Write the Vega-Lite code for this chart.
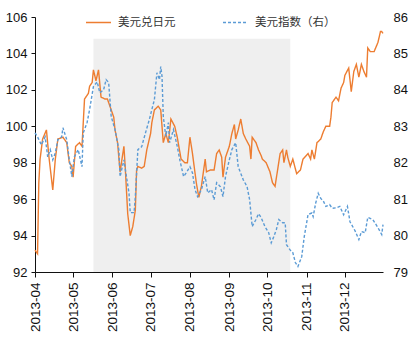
{
  "$schema": "https://vega.github.io/schema/vega-lite/v6.json",
  "width": 348,
  "height": 255,
  "autosize": "none",
  "padding": {"left": 35, "top": 17, "right": 33, "bottom": 84},
  "background": "white",
  "config": {
    "view": {"stroke": null},
    "axis": {"labelFont": "Liberation Sans", "labelFontSize": 13, "labelColor": "#111", "grid": false, "domainColor": "#111", "tickColor": "#111", "title": null}
  },
  "datasets": {
    "shade": [{"start": "2013-05-17", "end": "2013-10-19", "top": 104.8, "bottom": 92}],
    "jpy": [
      {"s":"美元兑日元","d":"2013-04-01","v":93.2},{"s":"美元兑日元","d":"2013-04-03","v":93.0},{"s":"美元兑日元","d":"2013-04-04","v":96.9},{"s":"美元兑日元","d":"2013-04-05","v":98.2},{"s":"美元兑日元","d":"2013-04-07","v":99.3},{"s":"美元兑日元","d":"2013-04-10","v":99.8},{"s":"美元兑日元","d":"2013-04-12","v":98.3},{"s":"美元兑日元","d":"2013-04-15","v":96.5},{"s":"美元兑日元","d":"2013-04-17","v":98.2},{"s":"美元兑日元","d":"2013-04-19","v":99.3},{"s":"美元兑日元","d":"2013-04-23","v":99.4},{"s":"美元兑日元","d":"2013-04-26","v":99.1},{"s":"美元兑日元","d":"2013-04-28","v":98.0},{"s":"美元兑日元","d":"2013-04-30","v":97.8},
      {"s":"美元兑日元","d":"2013-05-01","v":97.2},{"s":"美元兑日元","d":"2013-05-03","v":98.9},{"s":"美元兑日元","d":"2013-05-06","v":99.1},{"s":"美元兑日元","d":"2013-05-08","v":98.9},{"s":"美元兑日元","d":"2013-05-10","v":101.5},{"s":"美元兑日元","d":"2013-05-13","v":101.8},{"s":"美元兑日元","d":"2013-05-14","v":102.2},{"s":"美元兑日元","d":"2013-05-16","v":102.4},{"s":"美元兑日元","d":"2013-05-17","v":103.1},{"s":"美元兑日元","d":"2013-05-19","v":102.5},{"s":"美元兑日元","d":"2013-05-21","v":103.1},{"s":"美元兑日元","d":"2013-05-23","v":101.6},{"s":"美元兑日元","d":"2013-05-26","v":101.5},{"s":"美元兑日元","d":"2013-05-28","v":101.5},
      {"s":"美元兑日元","d":"2013-06-02","v":100.5},{"s":"美元兑日元","d":"2013-06-03","v":99.8},{"s":"美元兑日元","d":"2013-06-05","v":99.1},{"s":"美元兑日元","d":"2013-06-07","v":97.5},{"s":"美元兑日元","d":"2013-06-10","v":98.9},{"s":"美元兑日元","d":"2013-06-11","v":97.8},{"s":"美元兑日元","d":"2013-06-12","v":96.5},{"s":"美元兑日元","d":"2013-06-13","v":95.2},{"s":"美元兑日元","d":"2013-06-15","v":94.0},{"s":"美元兑日元","d":"2013-06-17","v":94.5},{"s":"美元兑日元","d":"2013-06-19","v":95.4},{"s":"美元兑日元","d":"2013-06-20","v":97.6},{"s":"美元兑日元","d":"2013-06-21","v":97.8},{"s":"美元兑日元","d":"2013-06-24","v":97.7},{"s":"美元兑日元","d":"2013-06-26","v":97.8},{"s":"美元兑日元","d":"2013-06-28","v":98.7},
      {"s":"美元兑日元","d":"2013-07-01","v":99.6},{"s":"美元兑日元","d":"2013-07-02","v":100.2},{"s":"美元兑日元","d":"2013-07-04","v":100.9},{"s":"美元兑日元","d":"2013-07-07","v":101.1},{"s":"美元兑日元","d":"2013-07-09","v":100.9},{"s":"美元兑日元","d":"2013-07-11","v":99.1},{"s":"美元兑日元","d":"2013-07-13","v":99.6},{"s":"美元兑日元","d":"2013-07-15","v":99.1},{"s":"美元兑日元","d":"2013-07-17","v":100.4},{"s":"美元兑日元","d":"2013-07-20","v":100.0},{"s":"美元兑日元","d":"2013-07-22","v":99.4},{"s":"美元兑日元","d":"2013-07-25","v":98.2},{"s":"美元兑日元","d":"2013-07-28","v":98.0},{"s":"美元兑日元","d":"2013-07-30","v":98.0},
      {"s":"美元兑日元","d":"2013-08-01","v":99.4},{"s":"美元兑日元","d":"2013-08-03","v":98.5},{"s":"美元兑日元","d":"2013-08-06","v":96.9},{"s":"美元兑日元","d":"2013-08-08","v":96.1},{"s":"美元兑日元","d":"2013-08-10","v":96.7},{"s":"美元兑日元","d":"2013-08-13","v":98.2},{"s":"美元兑日元","d":"2013-08-14","v":97.5},{"s":"美元兑日元","d":"2013-08-17","v":97.6},{"s":"美元兑日元","d":"2013-08-20","v":97.6},{"s":"美元兑日元","d":"2013-08-22","v":98.5},{"s":"美元兑日元","d":"2013-08-24","v":98.7},{"s":"美元兑日元","d":"2013-08-26","v":98.3},{"s":"美元兑日元","d":"2013-08-27","v":97.2},{"s":"美元兑日元","d":"2013-08-29","v":98.3},
      {"s":"美元兑日元","d":"2013-09-01","v":98.9},{"s":"美元兑日元","d":"2013-09-03","v":99.6},{"s":"美元兑日元","d":"2013-09-05","v":100.1},{"s":"美元兑日元","d":"2013-09-06","v":99.3},{"s":"美元兑日元","d":"2013-09-08","v":99.8},{"s":"美元兑日元","d":"2013-09-10","v":100.4},{"s":"美元兑日元","d":"2013-09-12","v":99.6},{"s":"美元兑日元","d":"2013-09-14","v":99.3},{"s":"美元兑日元","d":"2013-09-17","v":98.9},{"s":"美元兑日元","d":"2013-09-18","v":98.2},{"s":"美元兑日元","d":"2013-09-19","v":99.4},{"s":"美元兑日元","d":"2013-09-22","v":99.1},{"s":"美元兑日元","d":"2013-09-24","v":98.7},{"s":"美元兑日元","d":"2013-09-26","v":98.4},{"s":"美元兑日元","d":"2013-09-27","v":98.2},{"s":"美元兑日元","d":"2013-09-30","v":98.0},
      {"s":"美元兑日元","d":"2013-10-03","v":97.5},{"s":"美元兑日元","d":"2013-10-05","v":96.9},{"s":"美元兑日元","d":"2013-10-07","v":96.7},{"s":"美元兑日元","d":"2013-10-09","v":97.6},{"s":"美元兑日元","d":"2013-10-11","v":98.5},{"s":"美元兑日元","d":"2013-10-13","v":98.7},{"s":"美元兑日元","d":"2013-10-14","v":98.0},{"s":"美元兑日元","d":"2013-10-16","v":98.7},{"s":"美元兑日元","d":"2013-10-17","v":98.3},{"s":"美元兑日元","d":"2013-10-19","v":97.8},{"s":"美元兑日元","d":"2013-10-21","v":98.2},{"s":"美元兑日元","d":"2013-10-24","v":97.4},{"s":"美元兑日元","d":"2013-10-27","v":97.6},{"s":"美元兑日元","d":"2013-10-29","v":98.2},
      {"s":"美元兑日元","d":"2013-11-02","v":98.5},{"s":"美元兑日元","d":"2013-11-04","v":98.2},{"s":"美元兑日元","d":"2013-11-05","v":98.7},{"s":"美元兑日元","d":"2013-11-07","v":98.2},{"s":"美元兑日元","d":"2013-11-09","v":99.1},{"s":"美元兑日元","d":"2013-11-12","v":99.3},{"s":"美元兑日元","d":"2013-11-14","v":99.7},{"s":"美元兑日元","d":"2013-11-16","v":100.0},{"s":"美元兑日元","d":"2013-11-19","v":100.0},{"s":"美元兑日元","d":"2013-11-20","v":100.5},{"s":"美元兑日元","d":"2013-11-21","v":101.3},{"s":"美元兑日元","d":"2013-11-24","v":101.6},{"s":"美元兑日元","d":"2013-11-26","v":101.4},{"s":"美元兑日元","d":"2013-11-28","v":102.1},{"s":"美元兑日元","d":"2013-11-30","v":102.4},
      {"s":"美元兑日元","d":"2013-12-01","v":102.8},{"s":"美元兑日元","d":"2013-12-04","v":103.2},{"s":"美元兑日元","d":"2013-12-06","v":101.9},{"s":"美元兑日元","d":"2013-12-08","v":103.0},{"s":"美元兑日元","d":"2013-12-10","v":103.4},{"s":"美元兑日元","d":"2013-12-12","v":102.7},{"s":"美元兑日元","d":"2013-12-14","v":103.4},{"s":"美元兑日元","d":"2013-12-16","v":103.0},{"s":"美元兑日元","d":"2013-12-18","v":102.7},{"s":"美元兑日元","d":"2013-12-19","v":104.3},{"s":"美元兑日元","d":"2013-12-21","v":104.1},{"s":"美元兑日元","d":"2013-12-24","v":104.1},{"s":"美元兑日元","d":"2013-12-27","v":104.6},{"s":"美元兑日元","d":"2013-12-29","v":105.2},{"s":"美元兑日元","d":"2013-12-30","v":105.2},{"s":"美元兑日元","d":"2013-12-31","v":105.1}
    ],
    "dxy": [
      {"s":"美元指数（右）","d":"2013-04-01","v":82.82},{"s":"美元指数（右）","d":"2013-04-03","v":82.71},{"s":"美元指数（右）","d":"2013-04-06","v":82.49},{"s":"美元指数（右）","d":"2013-04-09","v":82.71},{"s":"美元指数（右）","d":"2013-04-11","v":82.16},{"s":"美元指数（右）","d":"2013-04-13","v":82.36},{"s":"美元指数（右）","d":"2013-04-15","v":82.08},{"s":"美元指数（右）","d":"2013-04-17","v":82.27},{"s":"美元指数（右）","d":"2013-04-19","v":82.63},{"s":"美元指数（右）","d":"2013-04-22","v":82.71},{"s":"美元指数（右）","d":"2013-04-23","v":82.96},{"s":"美元指数（右）","d":"2013-04-26","v":82.63},{"s":"美元指数（右）","d":"2013-04-28","v":82.08},{"s":"美元指数（右）","d":"2013-04-30","v":81.62},
      {"s":"美元指数（右）","d":"2013-05-02","v":82.16},{"s":"美元指数（右）","d":"2013-05-05","v":82.36},{"s":"美元指数（右）","d":"2013-05-08","v":81.89},{"s":"美元指数（右）","d":"2013-05-09","v":82.82},{"s":"美元指数（右）","d":"2013-05-12","v":83.10},{"s":"美元指数（右）","d":"2013-05-14","v":83.46},{"s":"美元指数（右）","d":"2013-05-17","v":84.09},{"s":"美元指数（右）","d":"2013-05-20","v":84.22},{"s":"美元指数（右）","d":"2013-05-22","v":83.92},{"s":"美元指数（右）","d":"2013-05-25","v":84.0},{"s":"美元指数（右）","d":"2013-05-27","v":84.28},{"s":"美元指数（右）","d":"2013-05-29","v":84.2},{"s":"美元指数（右）","d":"2013-05-31","v":83.27},
      {"s":"美元指数（右）","d":"2013-06-03","v":82.91},{"s":"美元指数（右）","d":"2013-06-06","v":82.36},{"s":"美元指数（右）","d":"2013-06-07","v":81.62},{"s":"美元指数（右）","d":"2013-06-10","v":82.08},{"s":"美元指数（右）","d":"2013-06-12","v":81.62},{"s":"美元指数（右）","d":"2013-06-14","v":81.17},{"s":"美元指数（右）","d":"2013-06-15","v":80.63},{"s":"美元指数（右）","d":"2013-06-18","v":80.63},{"s":"美元指数（右）","d":"2013-06-19","v":81.07},{"s":"美元指数（右）","d":"2013-06-21","v":82.36},{"s":"美元指数（右）","d":"2013-06-24","v":82.44},{"s":"美元指数（右）","d":"2013-06-27","v":82.82},{"s":"美元指数（右）","d":"2013-06-30","v":83.18},
      {"s":"美元指数（右）","d":"2013-07-02","v":83.46},{"s":"美元指数（右）","d":"2013-07-04","v":83.73},{"s":"美元指数（右）","d":"2013-07-06","v":84.47},{"s":"美元指数（右）","d":"2013-07-08","v":84.28},{"s":"美元指数（右）","d":"2013-07-09","v":84.64},{"s":"美元指数（右）","d":"2013-07-10","v":84.37},{"s":"美元指数（右）","d":"2013-07-11","v":83.27},{"s":"美元指数（右）","d":"2013-07-13","v":82.72},{"s":"美元指数（右）","d":"2013-07-15","v":83.1},{"s":"美元指数（右）","d":"2013-07-16","v":82.55},{"s":"美元指数（右）","d":"2013-07-19","v":82.91},{"s":"美元指数（右）","d":"2013-07-22","v":82.45},{"s":"美元指数（右）","d":"2013-07-24","v":82.08},{"s":"美元指数（右）","d":"2013-07-27","v":81.62},{"s":"美元指数（右）","d":"2013-07-29","v":81.72},
      {"s":"美元指数（右）","d":"2013-08-01","v":81.89},{"s":"美元指数（右）","d":"2013-08-03","v":81.72},{"s":"美元指数（右）","d":"2013-08-05","v":81.26},{"s":"美元指数（右）","d":"2013-08-07","v":81.07},{"s":"美元指数（右）","d":"2013-08-10","v":81.26},{"s":"美元指数（右）","d":"2013-08-13","v":81.62},{"s":"美元指数（右）","d":"2013-08-15","v":81.17},{"s":"美元指数（右）","d":"2013-08-18","v":81.26},{"s":"美元指数（右）","d":"2013-08-20","v":80.98},{"s":"美元指数（右）","d":"2013-08-22","v":81.45},{"s":"美元指数（右）","d":"2013-08-25","v":81.34},{"s":"美元指数（右）","d":"2013-08-27","v":81.07},{"s":"美元指数（右）","d":"2013-08-29","v":81.62},
      {"s":"美元指数（右）","d":"2013-09-01","v":82.08},{"s":"美元指数（右）","d":"2013-09-03","v":82.36},{"s":"美元指数（右）","d":"2013-09-06","v":82.55},{"s":"美元指数（右）","d":"2013-09-08","v":81.89},{"s":"美元指数（右）","d":"2013-09-12","v":81.53},{"s":"美元指数（右）","d":"2013-09-15","v":81.34},{"s":"美元指数（右）","d":"2013-09-17","v":80.98},{"s":"美元指数（右）","d":"2013-09-19","v":80.25},{"s":"美元指数（右）","d":"2013-09-22","v":80.44},{"s":"美元指数（右）","d":"2013-09-24","v":80.6},{"s":"美元指数（右）","d":"2013-09-26","v":80.5},{"s":"美元指数（右）","d":"2013-09-29","v":80.25},
      {"s":"美元指数（右）","d":"2013-10-02","v":80.08},{"s":"美元指数（右）","d":"2013-10-04","v":79.8},{"s":"美元指数（右）","d":"2013-10-06","v":79.97},{"s":"美元指数（右）","d":"2013-10-08","v":80.16},{"s":"美元指数（右）","d":"2013-10-10","v":80.44},{"s":"美元指数（右）","d":"2013-10-13","v":80.35},{"s":"美元指数（右）","d":"2013-10-15","v":80.35},{"s":"美元指数（右）","d":"2013-10-16","v":79.75},{"s":"美元指数（右）","d":"2013-10-19","v":79.6},{"s":"美元指数（右）","d":"2013-10-21","v":79.53},{"s":"美元指数（右）","d":"2013-10-23","v":79.26},{"s":"美元指数（右）","d":"2013-10-25","v":79.15},{"s":"美元指数（右）","d":"2013-10-28","v":79.42},{"s":"美元指数（右）","d":"2013-10-30","v":79.97},
      {"s":"美元指数（右）","d":"2013-11-02","v":80.58},{"s":"美元指数（右）","d":"2013-11-05","v":80.62},{"s":"美元指数（右）","d":"2013-11-06","v":80.52},{"s":"美元指数（右）","d":"2013-11-08","v":80.89},{"s":"美元指数（右）","d":"2013-11-10","v":81.16},{"s":"美元指数（右）","d":"2013-11-12","v":81.02},{"s":"美元指数（右）","d":"2013-11-14","v":80.95},{"s":"美元指数（右）","d":"2013-11-16","v":80.8},{"s":"美元指数（右）","d":"2013-11-19","v":80.85},{"s":"美元指数（右）","d":"2013-11-21","v":80.75},{"s":"美元指数（右）","d":"2013-11-24","v":80.76},{"s":"美元指数（右）","d":"2013-11-27","v":80.8},{"s":"美元指数（右）","d":"2013-11-30","v":80.57},
      {"s":"美元指数（右）","d":"2013-12-03","v":80.8},{"s":"美元指数（右）","d":"2013-12-05","v":80.38},{"s":"美元指数（右）","d":"2013-12-09","v":80.13},{"s":"美元指数（右）","d":"2013-12-12","v":79.89},{"s":"美元指数（右）","d":"2013-12-14","v":80.11},{"s":"美元指数（右）","d":"2013-12-17","v":80.08},{"s":"美元指数（右）","d":"2013-12-19","v":80.5},{"s":"美元指数（右）","d":"2013-12-23","v":80.44},{"s":"美元指数（右）","d":"2013-12-27","v":80.22},{"s":"美元指数（右）","d":"2013-12-30","v":80.03},{"s":"美元指数（右）","d":"2013-12-31","v":80.3}
    ]
  },
  "layer": [
    {
      "data": {"name": "shade"},
      "mark": {"type": "rect", "color": "#EFEFEF"},
      "encoding": {
        "x": {"field": "start", "type": "temporal", "scale": {"type": "utc", "domain": [{"year": 2013, "month": 4, "date": 1, "utc": true}, {"year": 2013, "month": 12, "date": 31, "utc": true}], "nice": false},
          "axis": {"format": "%Y-%m", "tickCount": {"interval": "month", "step": 1}, "labelAngle": -90, "labelAlign": "right", "labelBaseline": "middle", "labelFontSize": 13.5, "tickSize": 5, "labelPadding": 5, "labelOverlap": false}},
        "x2": {"field": "end"},
        "y": {"field": "top", "type": "quantitative", "scale": {"domain": [92, 106], "nice": false}, "axis": null},
        "y2": {"field": "bottom"}
      }
    },
    {
      "data": {"name": "jpy"},
      "mark": {"type": "line", "strokeWidth": 1.4},
      "encoding": {
        "x": {"field": "d", "type": "temporal"},
        "y": {"field": "v", "type": "quantitative", "scale": {"domain": [92, 106], "nice": false},
          "axis": {"orient": "left", "values": [92, 94, 96, 98, 100, 102, 104, 106], "tickSize": 4, "labelPadding": 4}},
        "color": {"field": "s", "type": "nominal", "scale": {"domain": ["美元兑日元", "美元指数（右）"], "range": ["#ED7D31", "#5B9BD5"]},
          "legend": {"orient": "none", "legendX": 50, "legendY": -8, "direction": "horizontal", "title": null, "symbolType": "stroke", "symbolSize": 625, "symbolStrokeWidth": 1.5, "labelFont": "Noto Sans CJK SC", "labelFontSize": 11.5, "labelColor": "#333", "columnPadding": 44, "labelOffset": 6, "padding": 0}},
        "strokeDash": {"field": "s", "type": "nominal", "scale": {"domain": ["美元兑日元", "美元指数（右）"], "range": [[1, 0], [3, 2]]}}
      }
    },
    {
      "data": {"name": "dxy"},
      "mark": {"type": "line", "strokeWidth": 1.4},
      "encoding": {
        "x": {"field": "d", "type": "temporal"},
        "y": {"field": "v", "type": "quantitative", "scale": {"domain": [79, 86], "nice": false},
          "axis": {"orient": "right", "values": [79, 80, 81, 82, 83, 84, 85, 86], "domain": false, "ticks": false, "labelPadding": 10}},
        "color": {"field": "s", "type": "nominal"},
        "strokeDash": {"field": "s", "type": "nominal"}
      }
    }
  ],
  "resolve": {"scale": {"y": "independent"}}
}
